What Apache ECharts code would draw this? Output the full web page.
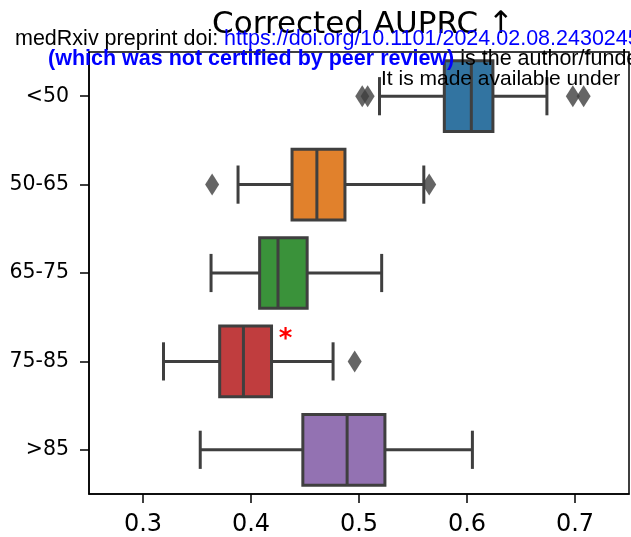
<!DOCTYPE html>
<html>
<head>
<meta charset="utf-8">
<script src="https://cdn.jsdelivr.net/npm/echarts@6/dist/echarts.min.js"></script>
<style>html,body{margin:0;padding:0;background:#fff;}#c{width:631px;height:537px;}</style>
</head>
<body>
<div id="c"></div>
<script>
// ---- data ----
const categories = ['<50', '50-65', '65-75', '75-85', '>85'];
const whiskerLow = [0.519, 0.388, 0.363, 0.319, 0.353];
const q1         = [0.579, 0.438, 0.408, 0.371, 0.448];
const median     = [0.604, 0.461, 0.425, 0.393, 0.489];
const q3         = [0.624, 0.487, 0.452, 0.419, 0.524];
const whiskerHigh= [0.674, 0.560, 0.521, 0.476, 0.605];
const outliers = [
  ['<50', 0.503], ['<50', 0.508], ['<50', 0.698], ['<50', 0.708],
  ['50-65', 0.364], ['50-65', 0.565],
  ['75-85', 0.496]
];
const boxColors = ['#3274a1', '#e1812c', '#3a923a', '#c03d3e', '#9372b2'];
const marked = ['75-85'];  // significance asterisk
const xTicks = [0.3, 0.4, 0.5, 0.6, 0.7];

const boxRows = categories.map((c, i) => [i, whiskerLow[i], q1[i], median[i], q3[i], whiskerHigh[i]]);
const edge = '#3f3f3f';

const chart = echarts.init(document.getElementById('c'), null, {renderer: 'canvas'});
chart.setOption({
  backgroundColor: '#fff',
  animation: false,
  textStyle: {fontFamily: 'DejaVu Sans'},
  title: {
    text: 'Corrected AUPRC \u2191',
    left: 358, textAlign: 'center', top: 4,
    textStyle: {fontFamily: 'DejaVu Sans', fontSize: 31, fontWeight: 'normal', color: '#000'}
  },
  grid: {left: 89, right: 2, top: 52, bottom: 42, show: true, borderColor: '#000', borderWidth: 1.5, backgroundColor: 'transparent'},
  xAxis: {
    type: 'value', min: 0.25, max: 0.75,
    splitLine: {show: false},
    axisLine: {show: true, lineStyle: {color: '#000', width: 1.5}},
    axisTick: {show: true, length: 9, lineStyle: {color: '#000', width: 1.5},
      customValues: xTicks},
    axisLabel: {fontSize: 24, color: '#000', margin: 19, fontFamily: 'DejaVu Sans',
      customValues: xTicks, formatter: v => v.toFixed(1)}
  },
  yAxis: {
    type: 'category', data: categories, inverse: true,
    axisLine: {show: true, lineStyle: {color: '#000', width: 1.5}},
    axisTick: {show: true, alignWithLabel: true, length: 9, lineStyle: {color: '#000', width: 1.5}},
    axisLabel: {fontSize: 20.5, color: '#000', margin: 20, fontFamily: 'DejaVu Sans'},
    splitLine: {show: false}
  },
  series: [
    {
      type: 'custom',
      data: boxRows,
      encode: {y: 0, x: [1, 2, 3, 4, 5]},
      renderItem: function (params, api) {
        const ci = api.value(0);
        const lo = api.coord([api.value(1), ci]);
        const a = api.coord([api.value(2), ci]);
        const m = api.coord([api.value(3), ci]);
        const b = api.coord([api.value(4), ci]);
        const hi = api.coord([api.value(5), ci]);
        const band = api.size([0, 1])[1];
        const h = band * 0.8;
        const cap = h * 0.27;
        const y = a[1];
        const ls = {stroke: edge, lineWidth: 3};
        const children = [
          {type: 'line', shape: {x1: lo[0], y1: y, x2: a[0], y2: y}, style: ls},
          {type: 'line', shape: {x1: b[0], y1: y, x2: hi[0], y2: y}, style: ls},
          {type: 'line', shape: {x1: lo[0], y1: y - cap, x2: lo[0], y2: y + cap}, style: ls},
          {type: 'line', shape: {x1: hi[0], y1: y - cap, x2: hi[0], y2: y + cap}, style: ls},
          {type: 'rect', shape: {x: a[0], y: y - h / 2, width: b[0] - a[0], height: h},
            style: {fill: boxColors[ci], stroke: edge, lineWidth: 3}},
          {type: 'line', shape: {x1: m[0], y1: y - h / 2, x2: m[0], y2: y + h / 2}, style: ls}
        ];
        if (marked.indexOf(categories[ci]) >= 0) {
          children.push({type: 'text', x: b[0] + 14, y: y - 21,
            style: {text: '*', fill: '#ff0000', fontSize: 26, fontWeight: 'bold', fontFamily: 'DejaVu Sans',
              align: 'center', verticalAlign: 'middle'}});
        }
        return {type: 'group', children: children};
      },
      z: 2
    },
    {
      type: 'scatter',
      data: outliers.map(o => [o[1], o[0]]),
      symbol: 'diamond', symbolSize: [14, 22],
      itemStyle: {color: edge},
      z: 3
    }
  ],
  graphic: [
    {type: 'text', left: 15, top: 28, z: 100,
      style: {rich: {k: {fill: '#000', fontSize: 21.5, fontFamily: 'Liberation Sans'}, u: {fill: '#0000ff', fontSize: 21.5, fontFamily: 'Liberation Sans'}},
        text: '{k|medRxiv preprint doi: }{u|https://doi.org/10.1101/2024.02.08.24302458}'}},
    {type: 'text', left: 48, top: 48, z: 100,
      style: {rich: {k: {fill: '#000', fontSize: 21.5, fontFamily: 'Liberation Sans'}, u: {fill: '#0000ff', fontSize: 21.5, fontWeight: 'bold', fontFamily: 'Liberation Sans'}},
        text: '{u|(which was not certified by peer review)}{k| is the author/funder, who has granted medRxiv a license}'}},
    {type: 'text', left: 381, top: 69, z: 100,
      style: {text: 'It is made available under', fill: '#000', fontSize: 21, fontFamily: 'Liberation Sans'}}
  ]
});
</script>
</body>
</html>
